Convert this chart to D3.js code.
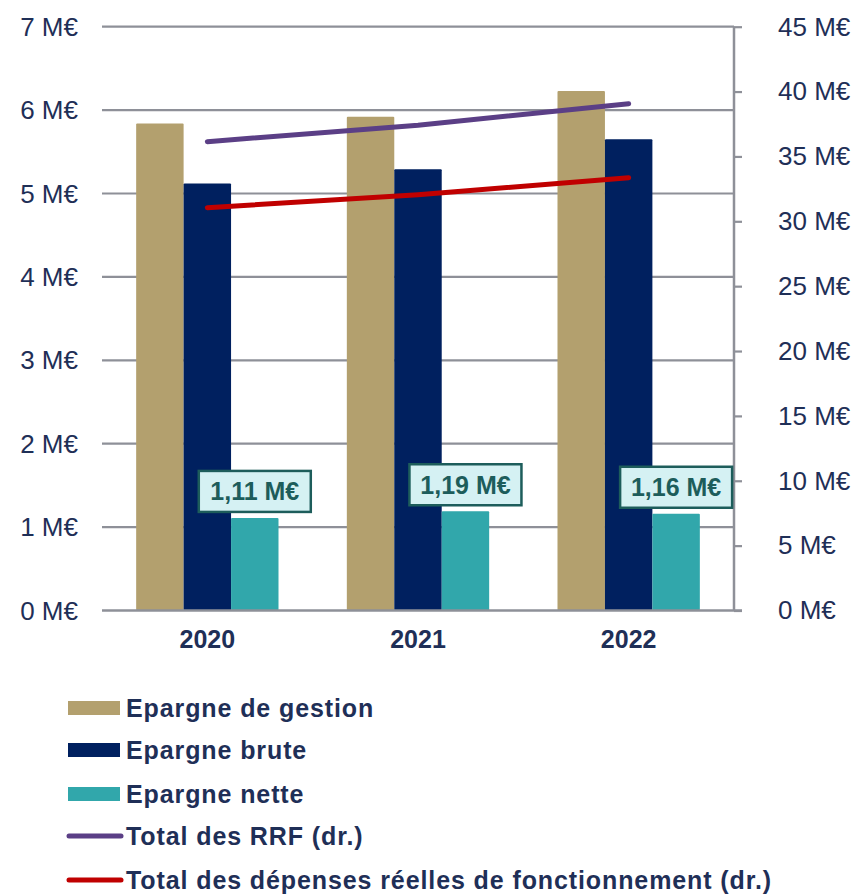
<!DOCTYPE html>
<html><head><meta charset="utf-8">
<script src="https://cdn.jsdelivr.net/npm/d3@7"></script>
<style>
html,body{margin:0;padding:0;background:#fff;}
svg{display:block;font-family:"Liberation Sans",Arial,sans-serif;}
</style></head>
<body>
<svg id="c" width="858" height="894"></svg>
<script>
const years = ["2020","2021","2022"];
const barSeries = ["Epargne de gestion","Epargne brute","Epargne nette"];
const epargneGestion = [5.84, 5.92, 6.23];
const epargneBrute = [5.12, 5.29, 5.65];
const epargneNette = [1.11, 1.19, 1.16];
const netteLabels = ["1,11 M€","1,19 M€","1,16 M€"];
const totalRRF = [36.14, 37.41, 39.06];
const totalDRF = [31.05, 32.04, 33.36];
const leftTicks = [0,1,2,3,4,5,6,7];
const rightTicks = [0,5,10,15,20,25,30,35,40,45];
const lineSeries = ["Total des RRF (dr.)","Total des dépenses réelles de fonctionnement (dr.)"];

const colors = {"Epargne de gestion":"#b3a06e","Epargne brute":"#00205f","Epargne nette":"#31a7ab",
  "Total des RRF (dr.)":"#5b3f86","Total des dépenses réelles de fonctionnement (dr.)":"#c00000"};
const textColor = "#1f2f57";
const gridColor = "#8e9098";

const svg = d3.select("#c");
const pLeft = 102, pRight = 734, pTop = 26.7, pBottom = 610.5;

const yL = d3.scaleLinear().domain([0,7]).range([pBottom, pTop]);
const yR = d3.scaleLinear().domain([0,45]).range([pBottom, pTop]);
const x0 = d3.scaleBand().domain(years).range([pLeft, pRight]).padding(0);
const x1 = d3.scaleBand().domain(barSeries).range([0, x0.bandwidth()]).paddingInner(0).paddingOuter(0.72);

// gridlines
svg.append("g").selectAll("line").data(leftTicks.filter(d=>d>0)).join("line")
  .attr("x1", pLeft).attr("x2", pRight).attr("y1", d=>yL(d)).attr("y2", d=>yL(d))
  .attr("stroke", gridColor).attr("stroke-width", 2.2);

// left labels
svg.append("g").selectAll("text").data(leftTicks).join("text")
  .attr("x", 78).attr("y", d=>yL(d)).attr("dy","0.35em").attr("text-anchor","end")
  .attr("font-size", 26).attr("fill", textColor).text(d=>d+" M€");

// bars
const barData = years.map((y,i)=>({year:y, vals:[
  {s:barSeries[0], v:epargneGestion[i]},{s:barSeries[1], v:epargneBrute[i]},{s:barSeries[2], v:epargneNette[i]}]}));
const g = svg.append("g").selectAll("g").data(barData).join("g")
  .attr("transform", d=>`translate(${x0(d.year)},0)`);
g.selectAll("rect").data(d=>d.vals).join("rect")
  .attr("x", d=>x1(d.s)).attr("width", x1.bandwidth())
  .attr("y", d=>yL(d.v)).attr("height", d=>yL(0)-yL(d.v))
  .attr("fill", d=>colors[d.s]).attr("rx",1);

// right axis
const rAxis = d3.axisRight(yR).tickValues(rightTicks).tickSize(8).tickFormat(d=>d+" M€").tickPadding(36);
const ra = svg.append("g").attr("transform", `translate(${pRight},0)`).call(rAxis);
ra.select(".domain").attr("stroke", gridColor).attr("stroke-width", 2.5).attr("d", `M0,${pTop}V${pBottom}`);
ra.selectAll(".tick line").attr("stroke", gridColor).attr("stroke-width", 2.2);
ra.selectAll(".tick text").attr("font-size", 26).attr("fill", textColor).attr("font-family","Liberation Sans, Arial, sans-serif");

// bottom axis
const bAxis = d3.axisBottom(x0).tickSize(0).tickPadding(20);
const ba = svg.append("g").attr("transform", `translate(0,${pBottom})`).call(bAxis);
ba.select(".domain").attr("stroke", gridColor).attr("stroke-width", 2.5).attr("d", `M${pLeft},0H${pRight+8}`);
ba.selectAll(".tick text").attr("font-size", 25).attr("font-weight","bold").attr("fill", textColor)
  .attr("font-family","Liberation Sans, Arial, sans-serif");

// lines
const cx = d => x0(d) + x0.bandwidth()/2;
const lineGen = d3.line().x(d=>cx(d.y)).y(d=>yR(d.v));
[[lineSeries[0], totalRRF],[lineSeries[1], totalDRF]].forEach(([name, vals])=>{
  svg.append("path").datum(years.map((y,i)=>({y, v:vals[i]})))
    .attr("d", lineGen).attr("fill","none").attr("stroke", colors[name])
    .attr("stroke-width", 5).attr("stroke-linecap","round").attr("stroke-linejoin","round");
});

// nette labels
const lab = svg.append("g").selectAll("g").data(years).join("g")
  .attr("transform", (d,i)=>`translate(${x0(d)+x1(barSeries[2])+x1.bandwidth()/2},${yL(epargneNette[i])-6})`);
lab.append("rect").attr("x",-56).attr("y",-41).attr("width",112).attr("height",41)
  .attr("fill","#d5f1f3").attr("stroke","#1d5d5b").attr("stroke-width",2.5);
lab.append("text").attr("x",0).attr("y",-20.5).attr("dy","0.35em").attr("text-anchor","middle")
  .attr("font-size",25).attr("font-weight","bold").attr("fill","#1d5d5b").text((d,i)=>netteLabels[i]);

// legend
const legendItems = [...barSeries.map(s=>({s, type:"bar"})), ...lineSeries.map(s=>({s, type:"line"}))];
const legendY = [708, 750, 794, 836, 880];
const lg = svg.append("g").selectAll("g").data(legendItems).join("g")
  .attr("transform", (d,i)=>`translate(0,${legendY[i]})`);
lg.filter(d=>d.type==="bar").append("rect").attr("x",68).attr("y",-7).attr("width",52).attr("height",14)
  .attr("fill", d=>colors[d.s]);
lg.filter(d=>d.type==="line").append("line").attr("x1",69).attr("x2",121).attr("y1",0).attr("y2",0)
  .attr("stroke", d=>colors[d.s]).attr("stroke-width",5).attr("stroke-linecap","round");
lg.append("text").attr("x",126).attr("y",0).attr("dy","0.35em").attr("font-size",25).attr("font-weight","bold")
  .attr("letter-spacing", 0.9).attr("fill", textColor).text(d=>d.s);
</script>
</body></html>
